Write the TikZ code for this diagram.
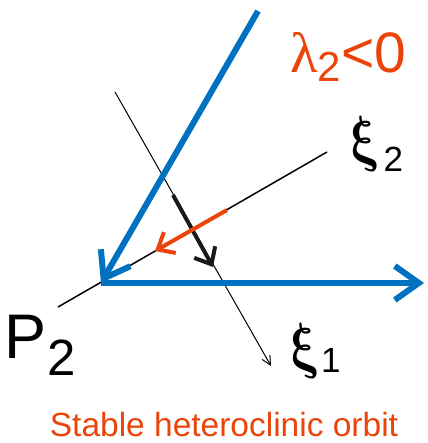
\documentclass[tikz,border=0pt]{standalone}
\usepackage{fontspec}
\usepackage{bm}
\setmainfont{Liberation Sans}
\newfontfamily\greekfont{Liberation Serif}
\usetikzlibrary{arrows.meta}
\definecolor{myblue}{RGB}{0,112,192}
\definecolor{myred}{RGB}{235,68,10}
\tikzset{
  blueline/.style={draw=myblue, line width=6pt},
  bluearrow/.style={blueline, -{Straight Barb[length=24pt,width=34pt,line width=6pt]}},
  thinline/.style={draw=black, line width=1.5pt},
  thinarrow/.style={draw=black, line width=1pt, -{Straight Barb[length=9pt,width=9pt,line width=1pt]}},
  thickarrow/.style={draw=black!90, line width=4pt, -{Straight Barb[length=14pt,width=24pt,line width=4pt]}},
  redarrow/.style={draw=myred, line width=4pt, -{Straight Barb[length=14pt,width=24pt,line width=4pt]}},
  lbl/.style={inner sep=0pt, outer sep=0pt, anchor=base west},
  xiglyph/.style={inner sep=0pt, outer sep=0pt, anchor=base west, xslant=-0.2, xscale=5, yscale=6.2, transform shape},
  subdigit/.style={inner sep=0pt, outer sep=0pt, anchor=base west, font=\fontsize{35}{35}\selectfont},
}
\begin{document}
\begin{tikzpicture}[x=1pt,y=-1pt]
\useasboundingbox (0,0) rectangle (427,443);
% points
\coordinate (P2) at (101,283);
\coordinate (Btop) at (258,11);
\coordinate (Bright) at (424,283);
\coordinate (X2a) at (58,307);
\coordinate (X2b) at (327,152);
\coordinate (X1a) at (115,92);
\coordinate (X1b) at (271,366);
\coordinate (Ka) at (173,195);
\coordinate (Kb) at (213,267);
\coordinate (Ra) at (227,210);
\coordinate (Rb) at (155,251);
% thin eigen-directions
\draw[thinline] (X2a) -- (X2b);
\draw[thinarrow] (X1a) -- (X1b);
% flow arrows
\draw[thickarrow] (Ka) -- (Kb);
\draw[redarrow] (Ra) -- (Rb);
% heteroclinic orbit
\draw[bluearrow] (Btop) -- (P2);
\draw[bluearrow] (P2) -- (Bright);
% labels
\node[lbl, text=myred] (lam) at (290,73) {\fontsize{57}{57}\selectfont\greekfont λ\raisebox{-9pt}{\fontsize{42}{42}\selectfont\rmfamily 2}\rmfamily<0};
\begin{scope}[shift={(353,160)}]
  \node[xiglyph] (xi2) at (0,0) {$\bm{\xi}$};
\end{scope}
\node[subdigit] (xi2sub) at (383.5,172) {2};
\begin{scope}[shift={(293,366)}]
  \node[xiglyph] (xi1) at (0,0) {$\bm{\xi}$};
\end{scope}
\node[subdigit] (xi1sub) at (321,372) {1};
\node[lbl] (p2) at (5,358) {\fontsize{63}{63}\selectfont P\raisebox{-17pt}{\fontsize{51}{51}\selectfont 2}};
\node[inner sep=0pt, anchor=base, text=myred] (title) at (224,436) {\fontsize{33.5}{33.5}\selectfont Stable heteroclinic orbit};
\end{tikzpicture}
\end{document}
